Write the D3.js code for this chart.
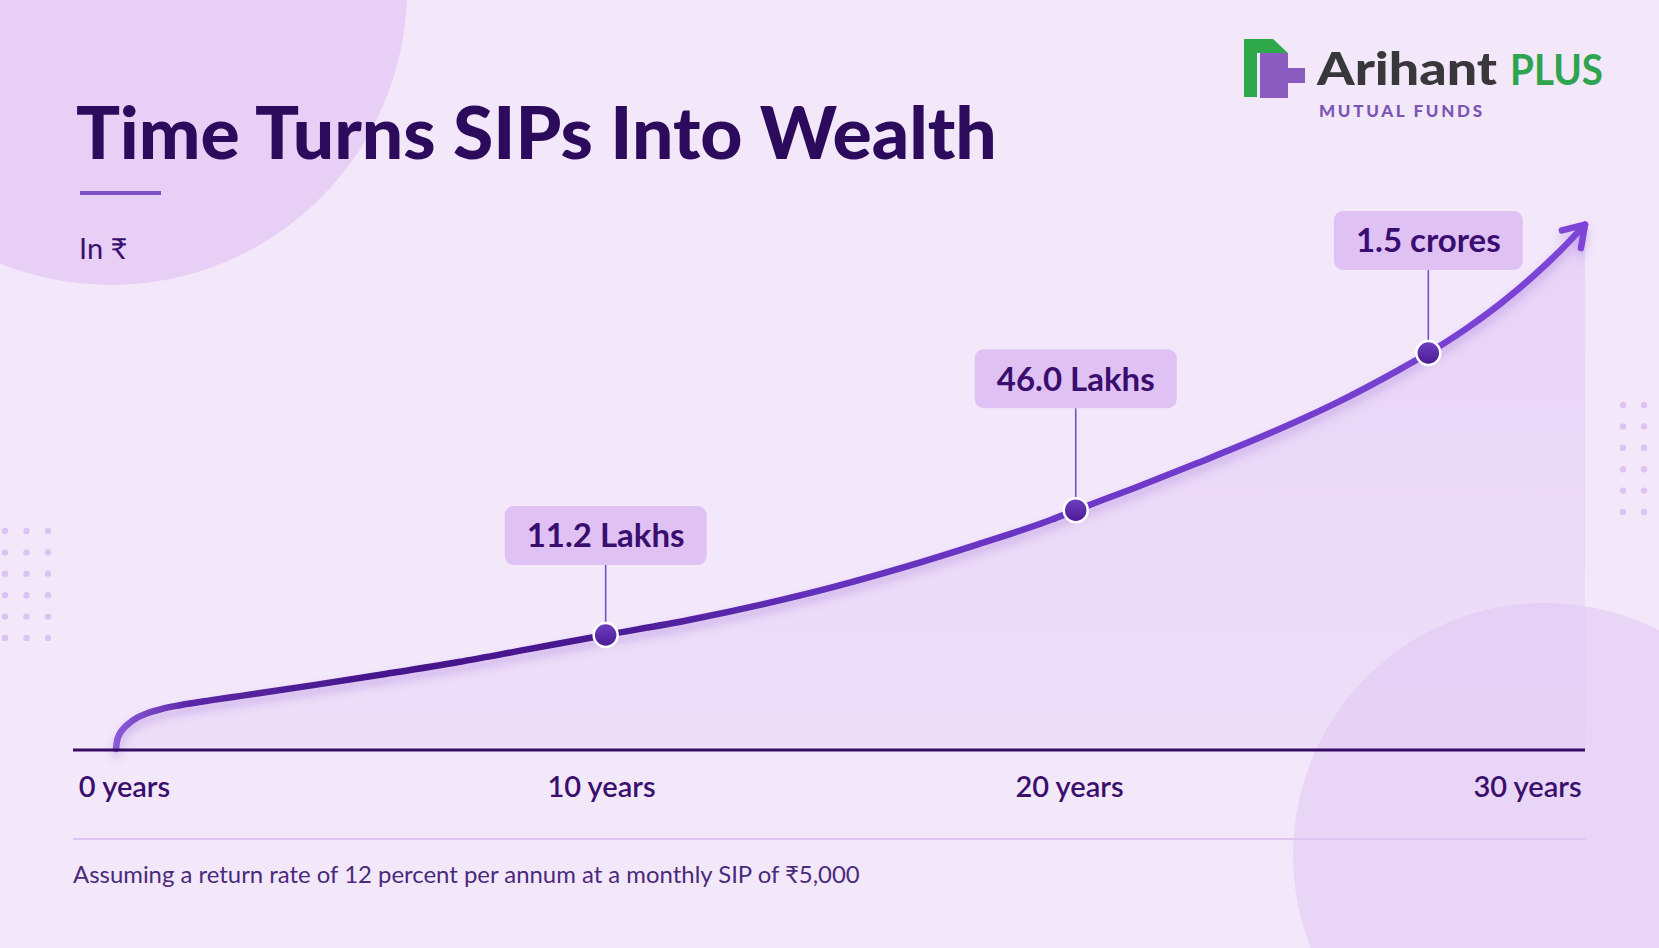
<!DOCTYPE html>
<html>
<head>
<meta charset="utf-8">
<script src="https://cdn.jsdelivr.net/npm/d3@7"></script>
<style>
  body { margin: 0; background: #f3e8fa; }
  svg { display: block; }
  text { font-family: Lato, "Noto Sans", sans-serif; }
</style>
</head>
<body>
<div id="chart"></div>
<script>
// growth curve: x in years, y in relative height units (no y axis shown)
var curveYears = [0, 0.02, 0.06, 0.14, 0.27, 0.43, 0.65, 0.94, 1.31, 1.92, 2.59, 4.0, 5.5, 7.0, 8.4, 10.0, 11.7, 13.2, 14.7, 16.1, 17.6, 19.1, 19.6, 20.8, 22.1, 23.5, 24.9, 26.2, 26.8, 27.6, 28.3, 28.9, 29.5, 30]
var curveLevels = [0, 1.3, 2.3, 3.3, 4.3, 5.2, 6.0, 6.7, 7.3, 8.1, 8.9, 10.6, 12.5, 14.5, 16.6, 19.0, 21.5, 24.1, 27.1, 30.3, 34.1, 38.2, 39.8, 43.5, 47.7, 52.4, 57.6, 63.2, 66.0, 70.2, 74.4, 78.5, 83.1, 87.4]

var calloutYears = [10, 19.6, 26.8]
var calloutLevels = [19.0, 39.8, 66.0]
var calloutLabels = ["11.2 Lakhs", "46.0 Lakhs", "1.5 crores"]

var tickYears = [0, 10, 20, 30]
var tickLabels = ["0 years", "10 years", "20 years", "30 years"]

var svgWidth = 1659
var svgHeight = 948

// how far above each point its label box sits
var calloutGap = [70, 102, 83]
var boxHeight = 59

var svg = d3.select("#chart")
    .append("svg")
    .attr("width", svgWidth)
    .attr("height", svgHeight)

var defs = svg.append("defs")

var lineGrad = defs.append("linearGradient")
    .attr("id", "lineGrad")
    .attr("gradientUnits", "userSpaceOnUse")
    .attr("x1", 116).attr("x2", 1585).attr("y1", 0).attr("y2", 0)
var lineStops = [[0, "#8a5ad8"], [0.05, "#5b28a6"], [0.18, "#45168b"], [0.33, "#4a1a92"], [0.48, "#6431bd"], [0.7, "#6f39c9"], [1, "#7c45d6"]]
lineStops.forEach(s => lineGrad.append("stop").attr("offset", s[0]).attr("stop-color", s[1]))

var areaGrad = defs.append("linearGradient")
    .attr("id", "areaGrad")
    .attr("x1", 0).attr("x2", 0).attr("y1", 0).attr("y2", 1)
areaGrad.append("stop").attr("offset", 0).attr("stop-color", "#d9b9f2").attr("stop-opacity", 0.45)
areaGrad.append("stop").attr("offset", 1).attr("stop-color", "#e3cdf5").attr("stop-opacity", 0.35)

var dotGrad = defs.append("linearGradient")
    .attr("id", "dotGrad")
    .attr("x1", 0).attr("x2", 0).attr("y1", 0).attr("y2", 1)
dotGrad.append("stop").attr("offset", 0).attr("stop-color", "#7040c4")
dotGrad.append("stop").attr("offset", 1).attr("stop-color", "#4b1a92")

var shadow = defs.append("filter")
    .attr("id", "shadow")
    .attr("x", "-10%").attr("y", "-30%").attr("width", "120%").attr("height", "160%")
shadow.append("feDropShadow")
    .attr("dx", 0).attr("dy", 6).attr("stdDeviation", 5)
    .attr("flood-color", "#7a3fc8").attr("flood-opacity", 0.3)

defs.append("marker")
    .attr("id", "arrow")
    .attr("markerUnits", "userSpaceOnUse")
    .attr("viewBox", "-30 -20 40 40")
    .attr("markerWidth", 40).attr("markerHeight", 40)
    .attr("refX", 0).attr("refY", 0)
    .attr("orient", "auto")
    .append("path")
    .attr("d", "M -20,-13 L 0,0 L -20,13")
    .attr("fill", "none")
    .attr("stroke", "#7c45d6")
    .attr("stroke-width", 6.5)
    .attr("stroke-linecap", "round")
    .attr("stroke-linejoin", "round")

// background + decorations
svg.append("rect")
    .attr("width", svgWidth).attr("height", svgHeight)
    .attr("fill", "#f3e8fa")
svg.append("circle")
    .attr("cx", 111).attr("cy", -11).attr("r", 296)
    .attr("fill", "#e7cff6")
svg.append("circle")
    .attr("cx", 1545).attr("cy", 855).attr("r", 252)
    .attr("fill", "#e9d5f6")

var leftDots = []
for (var c = 0; c < 3; c++) {
    for (var r = 0; r < 6; r++) leftDots.push([5 + c * 21.5, 531 + r * 21.4])
}
var rightDots = []
for (var c = 0; c < 2; c++) {
    for (var r = 0; r < 6; r++) rightDots.push([1623 + c * 21, 405 + r * 21.4])
}
svg.selectAll(".deco")
    .data(leftDots.concat(rightDots))
    .enter()
    .append("circle")
    .attr("class", "deco")
    .attr("cx", d => d[0])
    .attr("cy", d => d[1])
    .attr("r", 3.2)
    .attr("fill", "#dcc3f3")

// scales
var xScale = d3.scaleLinear().domain([0, 30]).range([116, 1585])
var yScale = d3.scaleLinear().domain([0, 100]).range([749, 149])
// tick labels are spread along the axis line, not exactly under the curve's years
var labelScale = d3.scaleLinear().domain([0, 10, 20, 30]).range([124, 601, 1069, 1527])

var curveData = curveYears.map((y, i) => ({ year: y, level: curveLevels[i] }))

var area = d3.area()
    .x(d => xScale(d.year))
    .y0(yScale(0))
    .y1(d => yScale(d.level))
    .curve(d3.curveMonotoneX)

var line = d3.line()
    .x(d => xScale(d.year))
    .y(d => yScale(d.level))
    .curve(d3.curveMonotoneX)

svg.append("path")
    .datum(curveData)
    .attr("d", area)
    .attr("fill", "url(#areaGrad)")

svg.append("path")
    .datum(curveData)
    .attr("d", line)
    .attr("fill", "none")
    .attr("stroke", "url(#lineGrad)")
    .attr("stroke-width", 6.5)
    .attr("stroke-linecap", "round")
    .attr("filter", "url(#shadow)")
    .attr("marker-end", "url(#arrow)")

// axis line
svg.append("line")
    .attr("x1", 73).attr("x2", 1585)
    .attr("y1", 750).attr("y2", 750)
    .attr("stroke", "#350c66")
    .attr("stroke-width", 3)

var xAxis = svg.append("g")
    .attr("transform", "translate(0,776)")
    .call(d3.axisBottom(labelScale)
        .tickValues(tickYears)
        .tickSize(0)
        .tickPadding(0)
        .tickFormat((d, i) => tickLabels[i]))
xAxis.select(".domain").remove()
xAxis.selectAll("text")
    .attr("dy", "0.71em")
    .attr("font-size", 29)
    .attr("font-weight", 600)
    .attr("fill", "#3a0f6e")
    .style("font-family", "Lato, 'Noto Sans', sans-serif")

// callouts
var callouts = calloutLabels.map((t, i) => ({ label: t, year: calloutYears[i], level: calloutLevels[i], gap: calloutGap[i] }))
var calloutGroup = svg.selectAll(".callout")
    .data(callouts)
    .enter()
    .append("g")
    .attr("class", "callout")

calloutGroup.append("line")
    .attr("x1", d => xScale(d.year))
    .attr("x2", d => xScale(d.year))
    .attr("y1", d => yScale(d.level) - d.gap)
    .attr("y2", d => yScale(d.level) - 10)
    .attr("stroke", "#7b4fc4")
    .attr("stroke-width", 1.6)

var boxes = calloutGroup.append("rect")
    .attr("y", d => yScale(d.level) - d.gap - boxHeight)
    .attr("height", boxHeight)
    .attr("rx", 9)
    .attr("fill", "#dfc2f3")

var labels = calloutGroup.append("text")
    .attr("x", d => xScale(d.year))
    .attr("y", d => yScale(d.level) - d.gap - boxHeight / 2)
    .attr("dy", "0.36em")
    .attr("text-anchor", "middle")
    .attr("font-size", 33)
    .attr("font-weight", 700)
    .attr("fill", "#3a0e6e")
    .text(d => d.label)

labels.each(function (d) {
    d.w = this.getComputedTextLength()
})
boxes.attr("x", d => xScale(d.year) - d.w / 2 - 22)
    .attr("width", d => d.w + 44)

calloutGroup.append("circle")
    .attr("cx", d => xScale(d.year))
    .attr("cy", d => yScale(d.level))
    .attr("r", 12)
    .attr("fill", "url(#dotGrad)")
    .attr("stroke", "#ffffff")
    .attr("stroke-width", 2.5)

// title block
function fitWidth(sel, target) {
    var w = sel.node().getComputedTextLength()
    var fs = parseFloat(sel.attr("font-size"))
    sel.attr("font-size", fs * target / w)
}

var title = svg.append("text")
    .attr("x", 76).attr("y", 159)
    .attr("font-size", 74)
    .attr("font-weight", 900)
    .attr("fill", "#2c0a5c")
    .text("Time Turns SIPs Into Wealth")
fitWidth(title, 921)

svg.append("rect")
    .attr("x", 80).attr("y", 191)
    .attr("width", 81).attr("height", 4)
    .attr("fill", "#7c4fc8")

svg.append("text")
    .attr("x", 79).attr("y", 259)
    .attr("font-size", 29)
    .attr("fill", "#3a0f6e")
    .text("In ₹")

// footnote
svg.append("line")
    .attr("x1", 73).attr("x2", 1585)
    .attr("y1", 839).attr("y2", 839)
    .attr("stroke", "#dcc6f0")
    .attr("stroke-width", 2)

var note = svg.append("text")
    .attr("x", 73).attr("y", 883)
    .attr("font-size", 22)
    .attr("fill", "#4a2a7c")
    .text("Assuming a return rate of 12 percent per annum at a monthly SIP of ₹5,000")
fitWidth(note, 787)

// logo
var logo = svg.append("g")
logo.append("path")
    .attr("d", "M1244,39 L1273,39 L1288,53 L1257,53 L1257,97 L1244,97 Z")
    .attr("fill", "#2ea84a")
logo.append("path")
    .attr("d", "M1260,53 L1288,53 L1288,68 L1305,68 L1305,83 L1288,83 L1288,98 L1260,98 Z")
    .attr("fill", "#8a5cc0")
logo.append("text")
    .attr("x", 1317).attr("y", 85)
    .attr("font-size", 46)
    .attr("font-weight", 900)
    .attr("fill", "#38383a")
    .attr("textLength", 180)
    .attr("lengthAdjust", "spacingAndGlyphs")
    .text("Arihant")
logo.append("text")
    .attr("x", 1510).attr("y", 85)
    .attr("font-size", 42)
    .attr("font-weight", 700)
    .attr("fill", "#2ea44f")
    .attr("textLength", 93)
    .attr("lengthAdjust", "spacingAndGlyphs")
    .text("PLUS")
logo.append("text")
    .attr("x", 1319).attr("y", 117)
    .attr("font-size", 17)
    .attr("font-weight", 900)
    .attr("fill", "#7b55b5")
    .attr("textLength", 163)
    .attr("lengthAdjust", "spacing")
    .text("MUTUAL FUNDS")
</script>
</body>
</html>
